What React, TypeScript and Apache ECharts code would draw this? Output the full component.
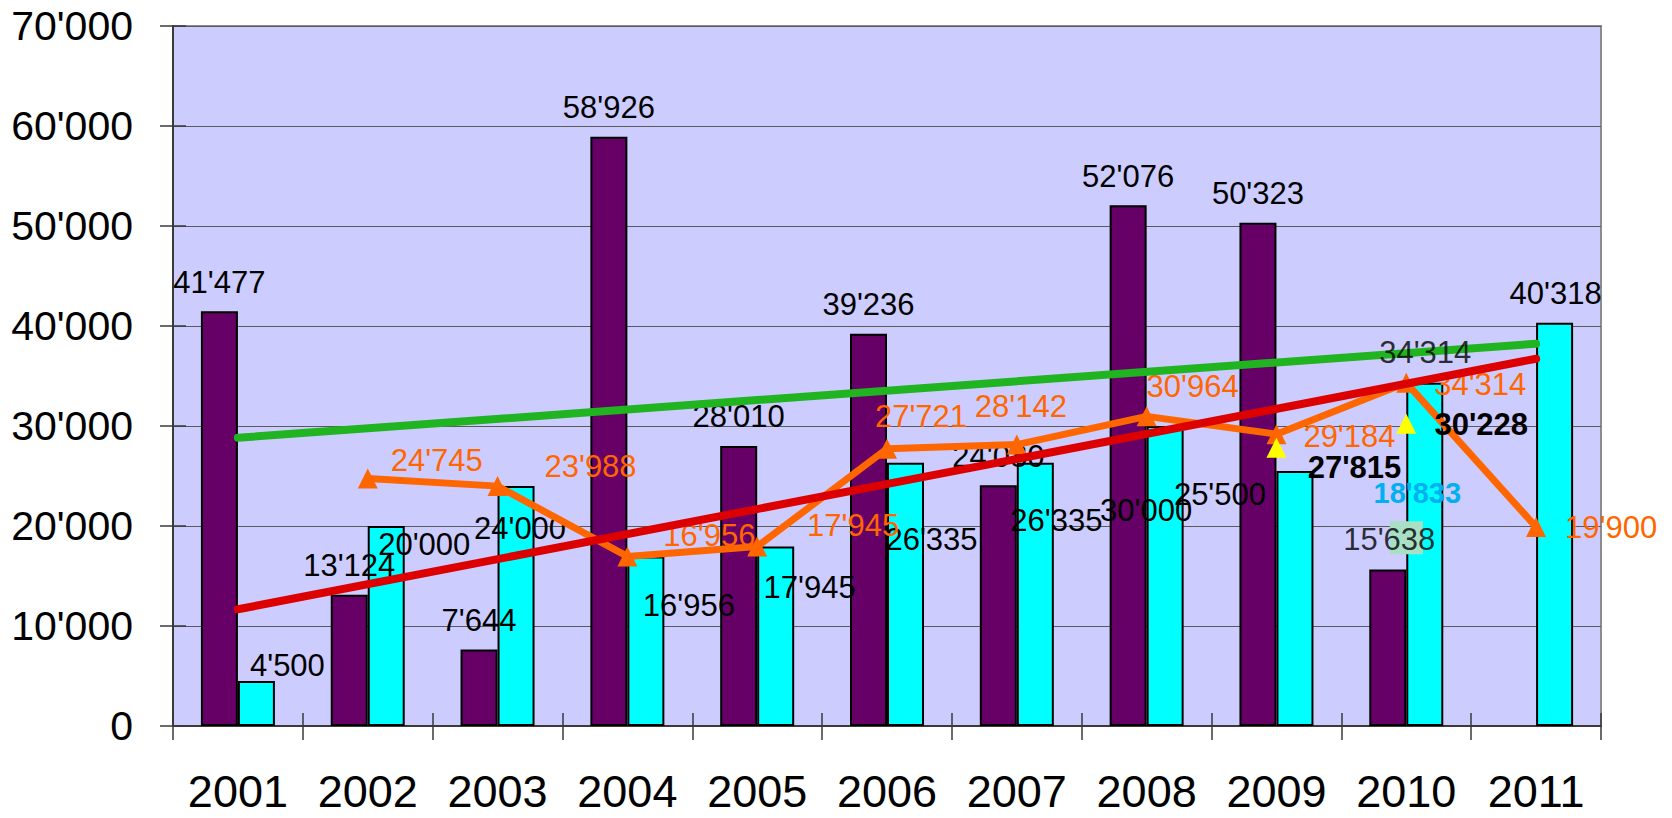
import React, { useEffect, useRef } from "react";
import * as echarts from "echarts";

// ---- data ----
const years = ["2001", "2002", "2003", "2004", "2005", "2006", "2007", "2008", "2009", "2010", "2011"];
const purpleValues = [41477, 13124, 7644, 58926, 28010, 39236, 24080, 52076, 50323, 15638, null];
const cyanValues = [4500, 20000, 24000, 16956, 17945, 26335, 26335, 30000, 25500, 34314, 40318];
const orangeValues = [null, 24745, 23988, 16956, 17945, 27721, 28142, 30964, 29184, 34314, 19900];
const greenTrend = [28830, null, null, null, null, null, null, null, null, null, 38230];
const redTrend = [11670, null, null, null, null, null, null, null, null, null, 36730];
const yellowValues = [null, null, null, null, null, null, null, null, 27815, 30228, null];
const mintValues = [null, null, null, null, null, null, null, null, null, 18833, null];
const yTicks = { min: 0, max: 70000, interval: 10000 };

// ---- label placement (style, not data) ----
const cyanLabelOffsets: number[][] = [
  [31, -16], [38, 18], [4, 42], [43, 49], [34, 41], [26, 77], [21, 58], [-19, 84], [-75, 23], [1, -29], [1, -29],
];
const orangeLabelOffsets: number[][] = [
  [0, 0], [69, -18], [93, -20], [82, -21], [96, -21], [34, -32], [4, -38], [46, -30], [73, 2], [74, 2], [75, 0],
];
const yellowLabelOffsets: number[][] = [
  [0, 0], [0, 0], [0, 0], [0, 0], [0, 0], [0, 0], [0, 0], [0, 0], [78, 20], [75, 1], [0, 0],
];
const mintLabelOffset = [11, -45];
// bar labels of this category are drawn on the topmost layer
const topLayerIndex = 9;
const topPurpleOffset = [-17, -30];
const topCyanOffset = [19, -30];

const FONT = "'Liberation Sans', Arial, Helvetica, sans-serif";
const fmt = (v: number) => String(Math.round(v)).replace(/\B(?=(\d{3})+(?!\d))/g, "'");
const labelFmt = (p: any) => {
  const v = Array.isArray(p.value) ? p.value[1] : p.value;
  return v == null ? "" : fmt(v);
};

function withOffsets(values: (number | null)[], offsets: number[][], hideIndex = -1) {
  return values.map((v, i) =>
    v == null ? null : { value: v, label: i === hideIndex ? { show: false } : { offset: offsets[i] } }
  );
}

export default function App() {
  const ref = useRef<HTMLDivElement>(null);
  useEffect(() => {
    if (!ref.current) return;
    const chart = echarts.init(ref.current, null, { renderer: "svg" });
    const tickStyle = { color: "#3a3a3a", width: 1.5 };
    const LBL = 31;
    const purpleOffsets = purpleValues.map(() => [0, -29]);
    chart.setOption({
      animation: false,
      textStyle: { fontFamily: FONT },
      grid: {
        left: 173,
        top: 26,
        right: 71,
        bottom: 92,
        show: true,
        backgroundColor: "#CCCCFF",
        borderColor: "#8c8c8c",
        borderWidth: 2,
      },
      xAxis: [
        {
          type: "category",
          data: years,
          boundaryGap: true,
          axisLine: { show: true, lineStyle: { color: "#3a3a3a", width: 2 } },
          axisTick: { show: true, interval: 0, length: 14, lineStyle: tickStyle },
          axisLabel: {
            color: "#000",
            fontSize: 45,
            lineHeight: 38,
            margin: 46,
            interval: 0,
            fontFamily: FONT,
          },
          splitLine: { show: false },
        },
        {
          type: "category",
          data: years,
          position: "bottom",
          boundaryGap: true,
          axisLine: { show: false },
          axisTick: { show: true, interval: 0, inside: true, length: 13, lineStyle: tickStyle },
          axisLabel: { show: false },
          splitLine: { show: false },
        },
      ],
      yAxis: [
        {
          type: "value",
          ...yTicks,
          axisLine: { show: true, lineStyle: { color: "#3a3a3a", width: 2 } },
          axisTick: { show: true, length: 13, lineStyle: tickStyle },
          axisLabel: { color: "#000", fontSize: 41, margin: 40, formatter: fmt, fontFamily: FONT },
          splitLine: { show: true, lineStyle: { color: "#5a5a5a", width: 1 } },
        },
        {
          type: "value",
          ...yTicks,
          position: "left",
          offset: 0,
          axisLine: { show: false },
          axisTick: { show: true, inside: true, length: 13, lineStyle: tickStyle },
          axisLabel: { show: false },
          splitLine: { show: false },
        },
      ],
      series: [
        {
          type: "bar",
          data: withOffsets(purpleValues, purpleOffsets, topLayerIndex),
          barWidth: "28.5%",
          barGap: "0%",
          itemStyle: { color: "#660066", borderColor: "#000", borderWidth: 2 },
          label: {
            show: true,
            position: "top",
            distance: 0,
            align: "center",
            verticalAlign: "middle",
            fontSize: LBL,
            color: "#000",
            formatter: labelFmt,
          },
          z: 2,
        },
        {
          type: "bar",
          data: withOffsets(cyanValues, cyanLabelOffsets, topLayerIndex),
          barWidth: "28.5%",
          barGap: "0%",
          itemStyle: { color: "#00FFFF", borderColor: "#000", borderWidth: 2 },
          label: {
            show: true,
            position: "top",
            distance: 0,
            align: "center",
            verticalAlign: "middle",
            fontSize: LBL,
            color: "#000",
            formatter: labelFmt,
          },
          z: 2,
        },
        {
          type: "scatter",
          data: mintValues.map((v) => (v == null ? null : { value: v, label: { offset: mintLabelOffset } })),
          symbol: "rect",
          symbolSize: 33,
          itemStyle: { color: "#A9DFC5", opacity: 1 },
          label: {
            show: true,
            position: "inside",
            fontSize: 29,
            fontWeight: "bold",
            color: "#00B0F0",
            formatter: labelFmt,
          },
          z: 2,
        },
        {
          type: "line",
          data: withOffsets(orangeValues, orangeLabelOffsets),
          symbol: "triangle",
          symbolSize: 20,
          showAllSymbol: true,
          lineStyle: { color: "#FF6600", width: 7 },
          itemStyle: { color: "#FF6600" },
          label: {
            show: true,
            position: "inside",
            fontSize: LBL,
            color: "#FF6600",
            formatter: labelFmt,
          },
          z: 3,
        },
        {
          type: "line",
          data: redTrend,
          connectNulls: true,
          symbol: "none",
          lineStyle: { color: "#DD0000", width: 8, cap: "round" },
          z: 4,
        },
        {
          type: "line",
          data: greenTrend,
          connectNulls: true,
          symbol: "none",
          lineStyle: { color: "#20B420", width: 8, cap: "round" },
          z: 4,
        },
        {
          type: "scatter",
          data: withOffsets(yellowValues, yellowLabelOffsets),
          symbol: "triangle",
          symbolSize: 20,
          itemStyle: { color: "#FFFF00", opacity: 1 },
          label: {
            show: true,
            position: "inside",
            fontSize: LBL,
            fontWeight: "bold",
            color: "#000",
            formatter: labelFmt,
          },
          z: 5,
        },
        {
          // label-only layer for the bar values of one category, drawn above markers and lines
          type: "scatter",
          data: [
            { value: [topLayerIndex, purpleValues[topLayerIndex]], label: { offset: topPurpleOffset } },
            { value: [topLayerIndex, cyanValues[topLayerIndex]], label: { offset: topCyanOffset } },
          ],
          symbol: "circle",
          symbolSize: 1,
          silent: true,
          itemStyle: { color: "rgba(0,0,0,0)" },
          label: {
            show: true,
            position: "inside",
            fontSize: LBL,
            color: "#000",
            formatter: labelFmt,
          },
          z: 6,
        },
      ],
    });
    return () => chart.dispose();
  }, []);
  return (
    <div
      ref={ref}
      style={{ position: "fixed", left: 0, top: 0, width: 1672, height: 818, background: "#fff" }}
    />
  );
}
